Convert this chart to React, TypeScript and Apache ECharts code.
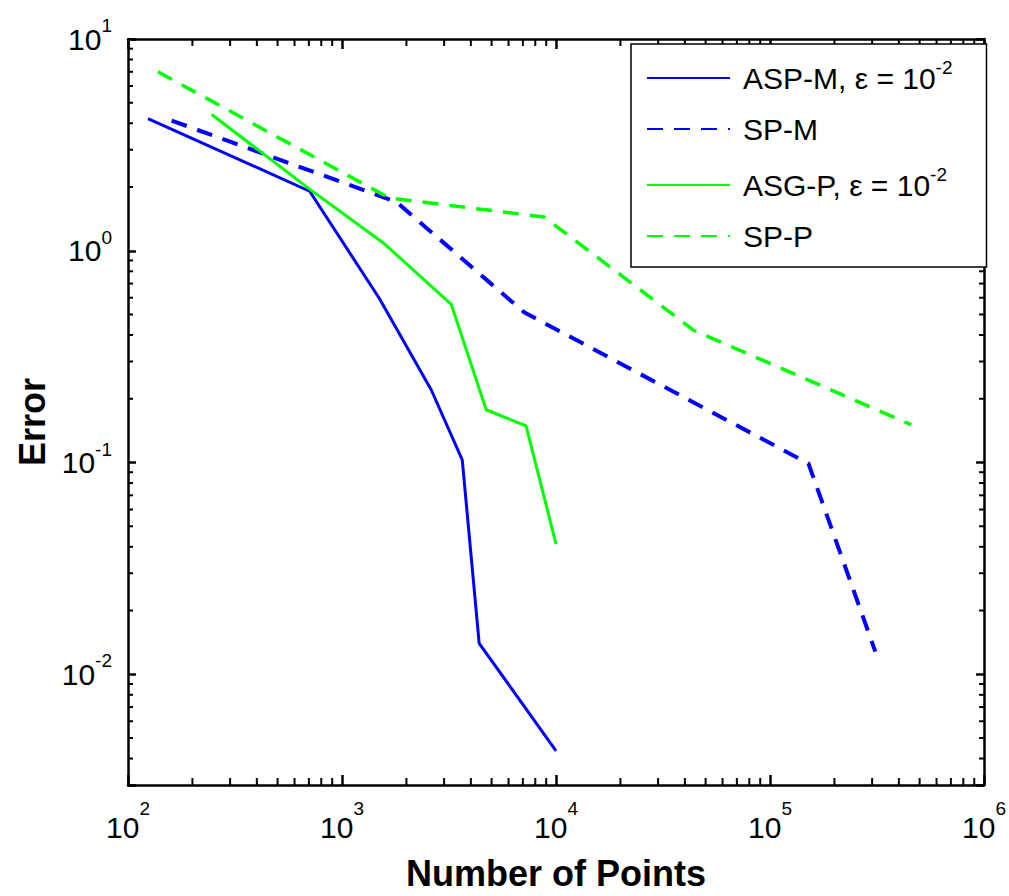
import React, { useEffect, useRef } from 'react';
import * as echarts from 'echarts';

// ---- data ----
const aspM_x = [124, 706, 1495, 2614, 3646, 4375, 10000];
const aspM_y = [4.21, 1.91, 0.595, 0.22, 0.103, 0.014, 0.00435];

const spM_x = [160, 1795, 7100, 151200, 310500];
const spM_y = [4.12, 1.7, 0.512, 0.0989, 0.0128];

const asgP_x = [246, 706, 1578, 3240, 4718, 7245, 10000];
const asgP_y = [4.4, 1.955, 1.079, 0.558, 0.1775, 0.149, 0.0412];

const spP_x = [138, 1665, 8790, 44000, 456700];
const spP_y = [7.0, 1.774, 1.444, 0.421, 0.1509];

const X_MIN = 100;
const X_MAX = 1e6;
const Y_MIN = 0.003;
const Y_MAX = 10;

const xMinorTicks = [
  200, 300, 400, 500, 600, 700, 800, 900,
  2000, 3000, 4000, 5000, 6000, 7000, 8000, 9000,
  20000, 30000, 40000, 50000, 60000, 70000, 80000, 90000,
  200000, 300000, 400000, 500000, 600000, 700000, 800000, 900000,
];
const yMinorTicks = [
  0.004, 0.005, 0.006, 0.007, 0.008, 0.009,
  0.02, 0.03, 0.04, 0.05, 0.06, 0.07, 0.08, 0.09,
  0.2, 0.3, 0.4, 0.5, 0.6, 0.7, 0.8, 0.9,
  2, 3, 4, 5, 6, 7, 8, 9,
];

const legendNames = ['ASP-M', 'SP-M', 'ASG-P', 'SP-P'];

const FONT = "'Liberation Sans', Arial, sans-serif";
const BLUE = '#0000ff';
const GREEN = '#00ff00';

const zip = (xs: number[], ys: number[]) => xs.map((x, i) => [x, ys[i]]);

const powLabel = (v: number) => {
  const l = Math.log10(v);
  const r = Math.round(l);
  if (Math.abs(l - r) > 1e-6) return '';
  return `{b|10}{s|${r}}`;
};

export default function App() {
  const ref = useRef<HTMLDivElement>(null);

  useEffect(() => {
    if (!ref.current) return;
    const chart = echarts.init(ref.current, undefined, { renderer: 'svg' });

    const tickStyle = { stroke: '#000', lineWidth: 2, fill: 'none' };
    const majorTick = { show: true, inside: true, lineStyle: { color: '#000', width: 2.5 } };
    const axisLine = { show: true, onZero: false, lineStyle: { color: '#000', width: 2.5 } };

    const option: any = {
      animation: false,
      backgroundColor: '#fff',
      grid: {
        left: 128,
        top: 39,
        right: 23,
        bottom: 105,
        show: false,
      },
      legend: {
        data: legendNames.map((n) => ({ name: n, icon: 'inherit' })),
        orient: 'vertical',
        left: 631,
        top: 44,
        padding: [14, 34, 16, 15],
        itemGap: 21,
        itemWidth: 83,
        itemHeight: 12,
        backgroundColor: '#fff',
        borderColor: '#000',
        borderWidth: 1.5,
        borderRadius: 0,
        itemStyle: { opacity: 0 },
        formatter: (name: string) =>
          name === 'ASP-M' || name === 'ASG-P'
            ? `{a|${name}, ε = 10}{sup|-2}`
            : `{a|${name}}`,
        textStyle: {
          fontFamily: FONT,
          color: '#000',
          rich: {
            a: { fontSize: 30, lineHeight: 40, fontFamily: FONT, color: '#000', padding: [0, 0, 0, 8] },
            sup: { fontSize: 19, lineHeight: 16, verticalAlign: 'top', fontFamily: FONT, color: '#000' },
          },
        },
      },
      xAxis: [
        {
          type: 'log',
          logBase: 10,
          min: X_MIN,
          max: X_MAX,
          position: 'bottom',
          name: 'Number of Points',
          nameLocation: 'middle',
          nameGap: 70,
          nameTextStyle: { fontSize: 36, fontWeight: 'bold', color: '#000', fontFamily: FONT },
          axisLine,
          axisTick: { ...majorTick, length: 10 },
          splitLine: { show: false },
          axisLabel: {
            margin: 14,
            formatter: powLabel,
            rich: {
              b: { fontSize: 30, lineHeight: 56, fontFamily: FONT, color: '#000' },
              s: { fontSize: 19, lineHeight: 14, verticalAlign: 'top', fontFamily: FONT, color: '#000' },
            },
          },
        },
        {
          type: 'log',
          logBase: 10,
          min: X_MIN,
          max: X_MAX,
          position: 'top',
          axisLine,
          axisTick: { ...majorTick, length: 10 },
          splitLine: { show: false },
          axisLabel: { show: false },
        },
      ],
      yAxis: [
        {
          type: 'log',
          logBase: 10,
          min: Y_MIN,
          max: Y_MAX,
          position: 'left',
          name: 'Error',
          nameLocation: 'middle',
          nameGap: 76,
          nameTextStyle: {
            fontSize: 36,
            fontWeight: 'bold',
            color: '#000',
            fontFamily: FONT,
            padding: [0, 20, 0, 0],
          },
          axisLine,
          axisTick: { ...majorTick, length: 8 },
          splitLine: { show: false },
          axisLabel: {
            margin: 16,
            formatter: powLabel,
            rich: {
              b: { fontSize: 30, lineHeight: 46, fontFamily: FONT, color: '#000' },
              s: { fontSize: 19, lineHeight: 14, verticalAlign: 'top', fontFamily: FONT, color: '#000' },
            },
          },
        },
        {
          type: 'log',
          logBase: 10,
          min: Y_MIN,
          max: Y_MAX,
          position: 'right',
          axisLine,
          axisTick: { ...majorTick, length: 8 },
          splitLine: { show: false },
          axisLabel: { show: false },
        },
      ],
      series: [
        {
          name: 'ASP-M',
          type: 'line',
          data: zip(aspM_x, aspM_y),
          symbol: 'none',
          itemStyle: { color: BLUE },
          lineStyle: { color: BLUE, width: 3, type: 'solid' },
        },
        {
          name: 'SP-M',
          type: 'line',
          data: zip(spM_x, spM_y),
          symbol: 'none',
          itemStyle: { color: BLUE },
          lineStyle: { color: BLUE, width: 4, type: [16, 11] },
        },
        {
          name: 'ASG-P',
          type: 'line',
          data: zip(asgP_x, asgP_y),
          symbol: 'none',
          itemStyle: { color: GREEN },
          lineStyle: { color: GREEN, width: 3, type: 'solid' },
        },
        {
          name: 'SP-P',
          type: 'line',
          data: zip(spP_x, spP_y),
          symbol: 'none',
          itemStyle: { color: GREEN },
          lineStyle: { color: GREEN, width: 3.5, type: [16, 11] },
        },
        {
          type: 'custom',
          name: 'xMinor',
          silent: true,
          clip: false,
          xAxisIndex: 0,
          yAxisIndex: 0,
          data: xMinorTicks.map((v) => [v, Y_MIN]),
          renderItem: (params: any, api: any) => {
            const v = api.value(0);
            const pb = api.coord([v, Y_MIN]);
            const pt = api.coord([v, Y_MAX]);
            return {
              type: 'group',
              children: [
                { type: 'line', shape: { x1: pb[0], y1: pb[1], x2: pb[0], y2: pb[1] - 7 }, style: tickStyle },
                { type: 'line', shape: { x1: pt[0], y1: pt[1], x2: pt[0], y2: pt[1] + 7 }, style: tickStyle },
              ],
            };
          },
        },
        {
          type: 'custom',
          name: 'yMinor',
          silent: true,
          clip: false,
          xAxisIndex: 0,
          yAxisIndex: 0,
          data: yMinorTicks.map((v) => [X_MIN, v]),
          renderItem: (params: any, api: any) => {
            const v = api.value(1);
            const pl = api.coord([X_MIN, v]);
            const pr = api.coord([X_MAX, v]);
            return {
              type: 'group',
              children: [
                { type: 'line', shape: { x1: pl[0], y1: pl[1], x2: pl[0] + 5, y2: pl[1] }, style: tickStyle },
                { type: 'line', shape: { x1: pr[0], y1: pr[1], x2: pr[0] - 5, y2: pr[1] }, style: tickStyle },
              ],
            };
          },
        },
      ],
    };

    chart.setOption(option);
    return () => chart.dispose();
  }, []);

  return (
    <div
      ref={ref}
      style={{ position: 'fixed', left: 0, top: 0, width: 1009, height: 896, background: '#fff' }}
    />
  );
}
